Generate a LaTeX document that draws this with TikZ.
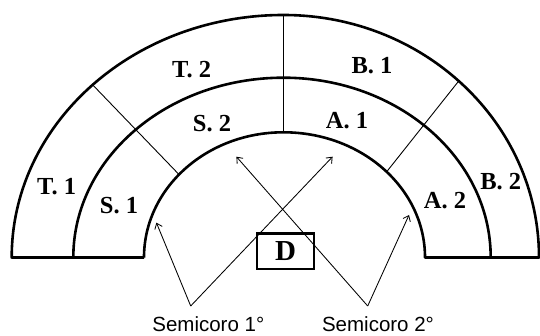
\documentclass[tikz,border=0pt]{standalone}
\usepackage{fontspec}
\setmainfont{Liberation Serif}
\setsansfont{Liberation Sans}
\usetikzlibrary{arrows.meta}
\tikzset{
  ring/.style={line width=2.6pt, line join=round},
  divider/.style={line width=0.9pt},
  mainline/.style={line width=1.6pt},
  lbl/.style={font=\fontsize{24.5}{24.5}\selectfont\bfseries, anchor=base, inner sep=0pt},
  capt/.style={font=\sffamily\fontsize{20.5}{20.5}\selectfont, anchor=base, inner sep=0pt},
  dirbox/.style={draw, line width=2.4pt, minimum width=56.5pt, minimum height=35.5pt, inner sep=0pt,
    font=\fontsize{29}{29}\selectfont\bfseries},
  arr/.style={line width=0.85pt, -{Straight Barb[length=5pt,width=8pt,line width=0.85pt]}}
}
\begin{document}
\begin{tikzpicture}[x=1pt,y=1pt]
\useasboundingbox (0,0) rectangle (540,336);
\coordinate (C) at (283.5,78.5);
% outer + inner outline
\draw[ring] (144,78.5) -- (11.7,78.5)
  arc[start angle=180,end angle=90,x radius=271.8,y radius=242.5]
  arc[start angle=90,end angle=0,x radius=255.5,y radius=242.5]
  -- (425,78.5)
  arc[start angle=0,end angle=90,x radius=141.5,y radius=125.2]
  arc[start angle=90,end angle=180,x radius=139.5,y radius=125.2];
% middle ring
\draw[ring] (73.3,78.5)
  arc[start angle=180,end angle=90,x radius=210.2,y radius=179.8]
  arc[start angle=90,end angle=0,x radius=207.2,y radius=179.8];
% dividers
\coordinate (vtop) at (283.5,321);
\coordinate (vbot) at (283.5,203.7);
\draw[mainline] (vtop) -- (vbot);
\path (C) ++(134.6:271.8 and 242.5) coordinate (lo);
\path (C) ++(138.5:139.5 and 125.2) coordinate (li);
\path (C) ++(46.7:255.5 and 242.5) coordinate (ro);
\path (C) ++(43.2:141.5 and 125.2) coordinate (ri);
\draw[divider] (lo) -- (li);
\draw[divider] (ro) -- (ri);
% labels
\node[lbl] (t2) at (191.7,258.7) {T. 2};
\node[lbl] (b1) at (372,262.7) {B. 1};
\node[lbl] (s2) at (212,204.3) {S. 2};
\node[lbl] (a1) at (347,207.7) {A. 1};
\node[lbl] (t1) at (56.7,141) {T. 1};
\node[lbl] (s1) at (119,122.7) {S. 1};
\node[lbl] (a2) at (445,127.7) {A. 2};
\node[lbl] (b2) at (500.7,146) {B. 2};
% director
\node[dirbox] (D) at (285.5,84.9) {D};
% semicoros
\node[capt] (sc1) at (208.3,4.3) {Semicoro 1°};
\node[capt] (sc2) at (378,4.3) {Semicoro 2°};
\coordinate (p1) at (190.7,30);
\coordinate (p2) at (367.7,30);
\coordinate (t1a) at (156.4,113.3);
\coordinate (t1b) at (332.6,179.3);
\coordinate (t2a) at (409,121);
\coordinate (t2b) at (236.4,179.3);
\draw[arr] (p1) -- (t1a);
\draw[arr] (p1) -- (t1b);
\draw[arr] (p2) -- (t2a);
\draw[arr] (p2) -- (t2b);
\end{tikzpicture}
\end{document}
